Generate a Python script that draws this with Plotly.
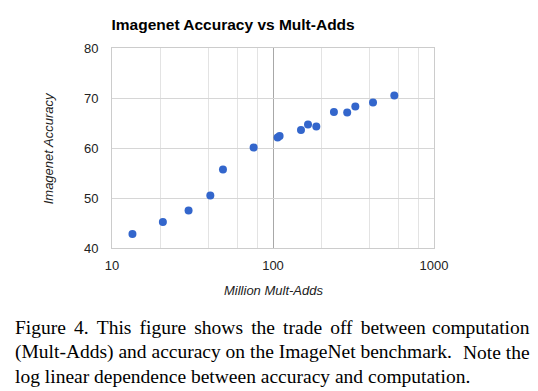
import plotly.graph_objects as go

# Data (Million Mult-Adds vs Imagenet accuracy)
mult_adds = [13.4, 20.7, 29.9, 40.8, 48.9, 75.8, 106.8, 109.9, 149.2, 165,
             185.8, 239, 289, 324.6, 418, 566.8]
accuracy = [42.8, 45.2, 47.5, 50.5, 55.7, 60.1, 62.1, 62.4, 63.6, 64.7,
            64.3, 67.2, 67.1, 68.3, 69.1, 70.5]

x_ticks = [10, 100, 1000]
x_tick_text = ["10", "100", "1000"]
x_minor = [20, 40, 60, 80, 200, 400, 600, 800]
y_ticks = [40, 50, 60, 70, 80]

title_text = "Imagenet Accuracy vs Mult-Adds"
x_title = "Million Mult-Adds"
y_title = "Imagenet Accuracy"
caption_line1 = ["Figure 4. This figure shows the trade off between", "computation"]
caption_line2 = ["(Mult-Adds) and accuracy on the ImageNet benchmark.", "Note the"]
caption_line3 = "log linear dependence between accuracy and computation."

OFF = 8  # page body margin
W, H = 530, 383
PL, PR, PT, PB = 111.7, 433.7, 48.3, 247.7  # plot box in screen pixels
L, R, T, B = PL - OFF, W - (PR - OFF), PT - OFF, H - (PB - OFF)
PW, PH = PR - PL, PB - PT


def px(sx):
    return (sx - PL) / PW


def py(sy):
    return (PB - sy) / PH


fig = go.Figure()
fig.add_trace(go.Scatter(
    x=mult_adds, y=accuracy, mode="markers",
    marker=dict(color="#3366cc", size=8, line=dict(width=0)),
    showlegend=False, hoverinfo="x+y",
))

fig.update_layout(
    width=W, height=H,
    margin=dict(l=L, r=R, t=T, b=B, pad=0),
    paper_bgcolor="white", plot_bgcolor="white",
    font=dict(family="Liberation Sans, Arial, sans-serif", size=13, color="#222222"),
    title=dict(text="<b>%s</b>" % title_text, x=(111.5 - OFF) / W, xanchor="left",
               y=1 - (25 - OFF) / H, yanchor="middle", xref="container", yref="container",
               font=dict(size=15.5, color="#000000")),
    xaxis=dict(type="log", range=[1, 3], tickmode="array", tickvals=x_ticks,
               ticktext=x_tick_text, showgrid=True, gridcolor="#a8a8a8", gridwidth=1,
               showline=True, linecolor="#cccccc", linewidth=1, mirror=True,
               ticks="", ticklabelstandoff=5, zeroline=False,
               minor=dict(tickmode="array", tickvals=x_minor, showgrid=True,
                          gridcolor="#e3e3e3", gridwidth=1, ticks="")),
    yaxis=dict(range=[40, 80], tickmode="array", tickvals=y_ticks,
               showgrid=True, gridcolor="#d6d6d6", gridwidth=1,
               showline=True, linecolor="#cccccc", linewidth=1, mirror=True,
               ticks="", ticklabelstandoff=10, zeroline=False),
)

fig.add_annotation(text="<i>%s</i>" % x_title, xref="paper", yref="paper",
                   x=0.5, y=py(290), xanchor="center", yanchor="middle",
                   showarrow=False, font=dict(size=13, color="#222222"))
fig.add_annotation(text="<i>%s</i>" % y_title, xref="paper", yref="paper",
                   x=px(48), y=0.5, xanchor="center", yanchor="middle",
                   textangle=-90, showarrow=False, font=dict(size=13, color="#222222"))

cap_font = dict(family="Liberation Serif, Times New Roman, serif", size=19.5, color="#000000")
baselines = [332.5, 357.5, 381.5]
left_x, right_x = 12.3, 532
WIDE = " \u2006"  # ordinary space plus a six-per-em space, for justified gaps


def cap(text, sx, yb, anchor):
    fig.add_annotation(text=text, xref="paper", yref="paper", x=px(sx), y=py(yb - 6),
                       xanchor=anchor, yanchor="middle", showarrow=False, font=cap_font)


cap(WIDE.join(caption_line1[0].split(" ")), left_x, baselines[0], "left")
cap(caption_line1[1], right_x, baselines[0], "right")
cap(caption_line2[0], left_x, baselines[1], "left")
cap(caption_line2[1], right_x, baselines[1], "right")
cap(caption_line3, left_x, baselines[2], "left")

fig.write_html("out.html")
